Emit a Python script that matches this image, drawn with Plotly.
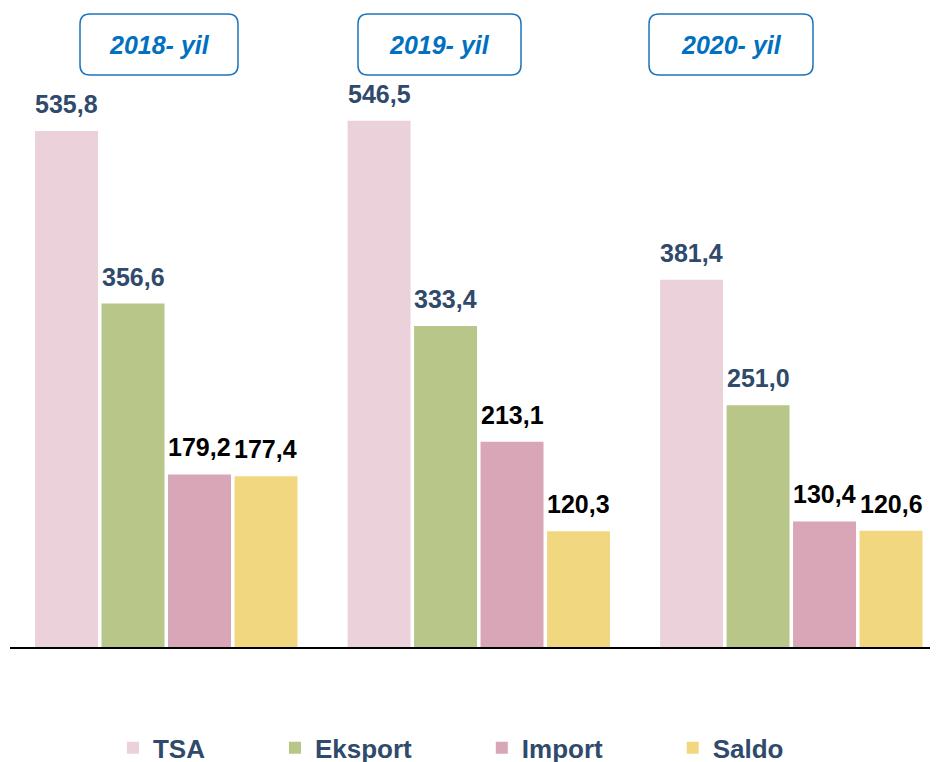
import plotly.graph_objects as go

years = ["2018- yil", "2019- yil", "2020- yil"]
series = ["TSA", "Eksport", "Import", "Saldo"]
tsa = [535.8, 546.5, 381.4]
eksport = [356.6, 333.4, 251.0]
importv = [179.2, 213.1, 130.4]
saldo = [177.4, 120.3, 120.6]
values = [tsa, eksport, importv, saldo]

colors = ["#EBD1DA", "#B8C68A", "#D8A6B6", "#F1D880"]
label_colors = ["#2F4A6B", "#2F4A6B", "#000000", "#000000"]

FONT = "Liberation Sans, Arial, sans-serif"
bargap = 0.149
bargroupgap = 0.053
PAD = "\u00a0" * 9

fig = go.Figure()
for name, vals, col in zip(series, values, colors):
    fig.add_trace(go.Bar(x=years, y=vals, name=name + PAD, marker_color=col,
                         marker_line_width=0, hoverinfo="skip"))

annotations = []
slot = (1 - bargap) / 4
for i, (vals, lc) in enumerate(zip(values, label_colors)):
    for j, v in enumerate(vals):
        annotations.append(dict(
            x=j + (i - 1.5) * slot, y=v, xref="x", yref="y",
            text=f"{v:.1f}".replace(".", ","), showarrow=False,
            yanchor="bottom", yshift=11,
            font=dict(family=FONT, size=25, color=lc, weight="bold")))

# year title boxes (pixel positions relative to plot's top-left)
PLOT_W = 938 - 2
boxes = [(70, 228), (348, 511), (639, 803)]
shapes = []
r = 10
for (x0, x1), yr in zip(boxes, years):
    y0, y1 = -6, -67
    path = (f"M{x0+r},{y0} L{x1-r},{y0} Q{x1},{y0} {x1},{y0-r} "
            f"L{x1},{y1+r} Q{x1},{y1} {x1-r},{y1} L{x0+r},{y1} "
            f"Q{x0},{y1} {x0},{y1+r} L{x0},{y0-r} Q{x0},{y0} {x0+r},{y0} Z")
    shapes.append(dict(type="path", xref="paper", yref="paper",
                       xsizemode="pixel", ysizemode="pixel",
                       xanchor=0, yanchor=1, path=path,
                       line=dict(color="#1C75BC", width=1.5),
                       fillcolor="white"))
    annotations.append(dict(
        xref="paper", yref="paper", x=((x0 + x1) / 2) / PLOT_W, y=1,
        yshift=-36.5, showarrow=False, text=f"<i>{yr}</i>",
        xanchor="center", yanchor="middle",
        font=dict(family=FONT, size=25, color="#0070C0", weight="bold")))

fig.update_layout(
    width=938, height=762,
    margin=dict(l=2, r=0, t=0, b=123),
    paper_bgcolor="white", plot_bgcolor="white",
    barmode="group", bargap=bargap, bargroupgap=bargroupgap,
    xaxis=dict(range=[-0.5, 2.495], showticklabels=False, ticks="",
               showline=True, linecolor="black", linewidth=2,
               showgrid=False, zeroline=False, fixedrange=True),
    yaxis=dict(range=[0, 663.6], visible=False, showgrid=False,
               zeroline=False, fixedrange=True),
    legend=dict(orientation="h", xref="paper", yref="container",
                x=0.11, y=0.06, xanchor="left", yanchor="top",
                font=dict(family=FONT, size=26, color="#2F4A6B", weight="bold"),
                itemclick=False, itemdoubleclick=False),
    shapes=shapes, annotations=annotations,
    showlegend=True,
)

fig.write_html("out.html")
